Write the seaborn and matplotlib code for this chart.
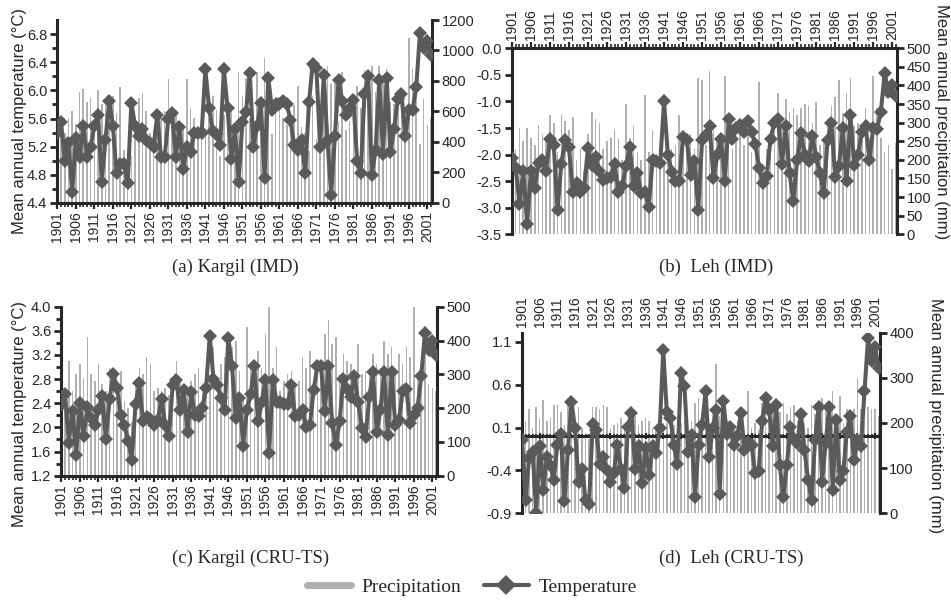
import matplotlib
matplotlib.use("Agg")
import matplotlib.pyplot as plt
from matplotlib.lines import Line2D
from matplotlib.ticker import FormatStrFormatter
import seaborn as sns

# years 1901-2002, labels every 5th year
years = list(range(1901, 2003))
label_years = list(range(1901, 2002, 5))

# (a) Kargil (IMD)
kargil_imd_temp = [5.40, 5.55, 5.00, 5.25, 4.55, 5.33, 5.05, 5.50, 5.05, 5.20,
                   5.50, 5.65, 4.70, 5.30, 5.85, 5.50, 4.82, 4.95, 4.95, 4.68,
                   5.82, 5.50, 5.35, 5.45, 5.30, 5.25, 5.20, 5.65, 5.05, 5.05,
                   5.60, 5.68, 5.05, 5.48, 4.88, 5.20, 5.12, 5.40, 5.40, 5.40,
                   6.30, 5.75, 5.42, 5.38, 5.22, 6.30, 5.75, 5.02, 5.45, 4.70,
                   5.55, 5.70, 6.25, 5.20, 5.50, 5.82, 4.75, 6.18, 5.72, 5.80,
                   5.80, 5.85, 5.80, 5.58, 5.22, 5.15, 5.30, 4.82, 5.83, 6.38,
                   6.32, 5.20, 6.22, 5.28, 4.52, 5.35, 6.15, 5.85, 5.65, 5.75,
                   5.87, 5.00, 4.82, 5.95, 6.20, 4.80, 5.15, 6.15, 5.10, 6.17,
                   5.12, 5.45, 5.88, 5.95, 5.35, 5.72, 5.72, 6.05, 6.82, 6.60,
                   6.70, 6.50]
kargil_imd_prec = [430, 520, 460, 560, 600, 520, 730, 750, 660, 690,
                   550, 740, 650, 680, 600, 700, 590, 760, 350, 340,
                   310, 560, 690, 720, 600, 460, 480, 520, 560, 600,
                   810, 520, 580, 480, 520, 810, 620, 560, 470, 460,
                   490, 560, 700, 610, 310, 580, 720, 640, 500, 860,
                   700, 820, 560, 480, 860, 600, 950, 660, 450, 620,
                   650, 560, 510, 500, 640, 770, 500, 460, 340, 700,
                   420, 620, 860, 900, 780, 820, 540, 860, 480, 540,
                   570, 770, 620, 870, 820, 900, 730, 900, 820, 880,
                   660, 650, 720, 700, 600, 1080, 880, 760, 390, 680,
                   510, 560]

# (b) Leh (IMD)
leh_imd_temp = [-2.07, -2.25, -2.93, -2.30, -3.30, -2.30, -2.63, -2.15, -2.10, -2.30,
                -1.70, -1.82, -3.05, -2.17, -1.73, -1.85, -2.70, -2.53, -2.70, -2.63,
                -1.87, -2.20, -2.05, -2.30, -2.48, -2.45, -2.42, -2.17, -2.70, -2.60,
                -2.22, -1.85, -2.60, -2.35, -2.73, -2.70, -2.98, -2.10, -2.13, -2.15,
                -1.00, -2.00, -2.32, -2.50, -2.50, -1.67, -1.73, -2.38, -2.13, -3.05,
                -1.73, -1.63, -1.46, -2.45, -2.00, -1.70, -2.50, -1.33, -1.70, -1.50,
                -1.44, -1.57, -1.36, -1.57, -1.80, -2.25, -2.53, -2.40, -1.70, -1.40,
                -1.33, -2.18, -1.47, -2.35, -2.88, -2.10, -1.60, -2.00, -2.13, -1.65,
                -2.05, -2.35, -2.73, -1.73, -1.40, -2.43, -2.22, -1.50, -2.50, -1.25,
                -2.20, -2.00, -1.57, -1.47, -2.10, -1.50, -1.52, -1.20, -0.47, -0.82,
                -0.70, -0.90]
leh_imd_prec = [240, 230, 285, 250, 285, 260, 240, 295, 270, 250,
                320, 300, 220, 320, 305, 280, 315, 200, 230, 170,
                270, 330, 310, 300, 230, 250, 260, 280, 255, 200,
                350, 260, 290, 220, 200, 375, 220, 280, 180, 205,
                200, 250, 230, 240, 320, 250, 220, 270, 230, 420,
                415, 240, 440, 280, 255, 220, 425, 250, 230, 260,
                280, 240, 285, 220, 250, 410, 190, 230, 250, 295,
                380, 290, 365, 330, 340, 320, 340, 350, 345, 300,
                355, 240, 260, 310, 345, 370, 415, 325, 380, 420,
                290, 300, 260, 340, 260, 425, 340, 260, 220, 240,
                175, 245]

# (c) Kargil (CRU-TS)
kargil_cru_temp = [2.37, 2.55, 1.75, 2.27, 1.55, 2.40, 1.86, 2.33, 2.15, 2.04,
                   2.29, 2.52, 1.80, 2.47, 2.89, 2.65, 2.21, 2.04, 1.78, 1.46,
                   2.39, 2.73, 2.10, 2.17, 2.14, 2.04, 2.12, 2.47, 2.04, 1.85,
                   2.70, 2.78, 2.29, 2.62, 1.93, 2.58, 2.21, 2.19, 2.32, 2.65,
                   3.52, 2.81, 2.70, 2.48, 2.29, 3.48, 3.01, 2.15, 2.48, 1.70,
                   2.29, 2.55, 3.01, 2.10, 2.42, 2.78, 1.58, 2.79, 2.42, 2.42,
                   2.39, 2.39, 2.70, 2.19, 2.21, 2.29, 2.01, 2.04, 2.62, 3.01,
                   3.01, 2.27, 3.01, 2.07, 1.71, 2.10, 2.81, 2.63, 2.51, 2.85,
                   2.42, 1.99, 1.84, 2.50, 2.91, 1.93, 2.29, 2.92, 1.87, 2.91,
                   2.04, 2.12, 2.60, 2.63, 2.07, 2.21, 2.32, 2.85, 3.56, 3.28,
                   3.43, 3.20]
kargil_cru_prec = [200, 260, 340, 250, 300, 330, 290, 410, 300, 280,
                   330, 270, 250, 320, 300, 280, 310, 220, 200, 160,
                   270, 320, 300, 350, 330, 250, 260, 250, 260, 240,
                   200, 340, 280, 270, 250, 280, 300, 320, 260, 240,
                   290, 380, 220, 330, 350, 330, 380, 400, 310, 240,
                   440, 330, 300, 370, 320, 420, 500, 320, 380, 250,
                   280, 300, 310, 260, 280, 350, 320, 370, 280, 320,
                   340, 420, 460, 390, 410, 300, 360, 340, 330, 300,
                   390, 300, 310, 300, 360, 330, 320, 400, 360, 380,
                   300, 360, 330, 380, 350, 500, 300, 310, 390, 270,
                   260, 250]

# (d) Leh (CRU-TS)
leh_cru_temp = [-0.04, -0.74, -0.25, -0.18, -0.90, -0.12, -0.63, -0.24, -0.34, -0.51,
                -0.10, 0.03, -0.76, -0.16, 0.40, 0.09, -0.54, -0.38, -0.74, -0.79,
                0.14, 0.07, -0.32, -0.24, -0.40, -0.53, -0.43, -0.10, -0.38, -0.61,
                0.11, 0.27, -0.38, -0.12, -0.55, -0.14, -0.45, -0.12, -0.20, 0.09,
                1.00, 0.28, 0.21, -0.10, -0.32, 0.74, 0.58, -0.18, 0.01, -0.71,
                -0.10, 0.13, 0.53, -0.24, 0.09, 0.30, -0.68, 0.41, 0.03, 0.11,
                -0.10, 0.00, 0.27, -0.16, -0.07, -0.10, -0.43, -0.41, 0.17, 0.44,
                0.30, -0.12, 0.36, -0.34, -0.71, -0.34, 0.11, -0.03, -0.08, 0.26,
                -0.16, -0.51, -0.74, -0.05, 0.34, -0.53, -0.08, 0.34, -0.63, 0.19,
                -0.51, -0.41, 0.05, 0.23, -0.28, -0.05, -0.12, 0.52, 1.14, 0.87,
                1.04, 0.79]
leh_cru_prec = [200, 205, 230, 190, 235, 210, 250, 205, 210, 240,
                240, 225, 195, 240, 235, 200, 235, 190, 175, 165,
                235, 235, 230, 240, 235, 190, 195, 200, 210, 185,
                170, 205, 215, 195, 205, 210, 205, 190, 185, 195,
                200, 200, 185, 195, 210, 200, 205, 185, 205, 245,
                255, 210, 235, 200, 230, 330, 215, 225, 205, 180,
                190, 205, 195, 180, 270, 190, 200, 185, 245, 250,
                250, 245, 240, 225, 245, 220, 235, 240, 205, 230,
                200, 190, 240, 220, 240, 255, 230, 205, 270, 185,
                260, 200, 230, 190, 230, 300, 230, 205, 235, 230,
                230, 215]

BAR_GREY = '#b0b0b0'
LINE_GREY = '#5a5a5a'
SPINE_W = 2.2

sns.set_style("ticks")
plt.rcParams['font.family'] = ['Liberation Sans', 'DejaVu Sans']
plt.rcParams['axes.unicode_minus'] = False

fig = plt.figure(figsize=(9.51, 6.01), dpi=100)


def px_rect(left, top, right, bottom):
    """Axes rect from pixel edges of the 951x601 canvas."""
    W, H = 951.0, 601.0
    return [left / W, 1 - bottom / H, (right - left) / W, (bottom - top) / H]


def draw_panel(rect, temp, prec, t_lim, t_ticks, p_lim, p_ticks, axis_pos, t_minor=None):
    ax = fig.add_axes(rect)
    ax2 = ax.twinx()

    sns.barplot(x=years, y=prec, native_scale=True, width=0.42, color=BAR_GREY,
                saturation=1, linewidth=0, ax=ax2)
    sns.lineplot(x=years, y=temp, color=LINE_GREY, linewidth=2.9, marker='D',
                 markersize=7.5, markeredgewidth=0, ax=ax, zorder=3)

    # line axes on top of the bar axes
    ax.set_zorder(ax2.get_zorder() + 1)
    ax.patch.set_visible(False)

    ax.set_xlim(1900.9, 2002.25)
    ax.set_ylim(*t_lim)
    ax.set_yticks(t_ticks)
    if t_minor is not None:
        ax.set_yticks(t_minor, minor=True)
    ax.yaxis.set_major_formatter(FormatStrFormatter('%.1f'))
    ax2.set_ylim(*p_lim)
    ax2.set_yticks(p_ticks)

    ax.set_xticks(label_years)
    ax.set_xticklabels([str(y) for y in label_years])
    ax.set_xticks(years, minor=True)

    for a in (ax, ax2):
        a.set_xlabel('')
        a.set_ylabel('')

    for s in ('left', 'top', 'bottom'):
        ax2.spines[s].set_visible(False)
    ax2.spines['right'].set_linewidth(SPINE_W)
    ax.spines['right'].set_visible(False)
    ax.spines['left'].set_linewidth(SPINE_W)

    if axis_pos == 'bottom':
        ax.spines['top'].set_visible(False)
        ax.spines['bottom'].set_linewidth(SPINE_W)
        ax.tick_params(axis='x', which='both', bottom=True, top=False,
                       labelbottom=True, labeltop=False)
    elif axis_pos == 'top':
        ax.spines['bottom'].set_visible(False)
        ax.spines['top'].set_visible(True)
        ax.spines['top'].set_linewidth(SPINE_W)
        ax.tick_params(axis='x', which='both', bottom=False, top=True,
                       labelbottom=False, labeltop=True)
    else:
        # category axis crossing at zero, labels above the plot
        ax.spines['top'].set_visible(False)
        ax.spines['bottom'].set_position(('data', 0))
        ax.spines['bottom'].set_linewidth(SPINE_W)
        ax.tick_params(axis='x', which='both', bottom=True, top=False,
                       labelbottom=False, labeltop=True, direction='inout')

    ax.tick_params(axis='x', which='major', length=4, width=1.6, labelsize=10,
                   pad=2, labelrotation=90)
    ax.tick_params(axis='x', which='minor', length=3, width=1.2)
    ax.tick_params(axis='y', which='major', length=5, width=2, labelsize=10.5, pad=2)
    ax.tick_params(axis='y', which='minor', length=3.5, width=2)
    ax2.tick_params(axis='y', which='major', length=5, width=2, labelsize=10.5, pad=2)
    ax2.tick_params(axis='x', which='both', bottom=False, top=False,
                    labelbottom=False, labeltop=False)
    return ax, ax2


draw_panel(px_rect(57, 20, 432, 203), kargil_imd_temp, kargil_imd_prec,
           (4.4, 7.0), [4.4, 4.8, 5.2, 5.6, 6.0, 6.4, 6.8],
           (0, 1200), [0, 200, 400, 600, 800, 1000, 1200], 'bottom',
           t_minor=[4.6, 5.0, 5.4, 5.8, 6.2, 6.6])

draw_panel(px_rect(511.5, 48.3, 897, 234.3), leh_imd_temp, leh_imd_prec,
           (-3.5, 0.0), [-3.5, -3.0, -2.5, -2.0, -1.5, -1.0, -0.5, 0.0],
           (0, 500), list(range(0, 501, 50)), 'top')

draw_panel(px_rect(61, 306.7, 437, 475.7), kargil_cru_temp, kargil_cru_prec,
           (1.2, 4.0), [1.2, 1.6, 2.0, 2.4, 2.8, 3.2, 3.6, 4.0],
           (0, 500), [0, 100, 200, 300, 400, 500], 'bottom',
           t_minor=[1.4, 1.8, 2.2, 2.6, 3.0, 3.4, 3.8])

draw_panel(px_rect(521.7, 332.7, 879.5, 513.3), leh_cru_temp, leh_cru_prec,
           (-0.9, 1.205), [-0.9, -0.4, 0.1, 0.6, 1.1],
           (0, 400), [0, 100, 200, 300, 400], 'zero')

# axis titles
temp_label = 'Mean annual temperature (°C)'
prec_label = 'Mean annual precipitation (mm)'
fig.text(20 / 951, 1 - 121 / 601, temp_label, rotation=90, ha='center', va='center', fontsize=12)
fig.text(19.5 / 951, 1 - 414 / 601, temp_label, rotation=90, ha='center', va='center', fontsize=12)
fig.text(941 / 951, 1 - 122 / 601, prec_label, rotation=270, ha='center', va='center', fontsize=12)
fig.text(936 / 951, 1 - 416 / 601, prec_label, rotation=270, ha='center', va='center', fontsize=12)

# panel captions
serif = ['Liberation Serif', 'DejaVu Serif']
fig.text(235 / 951, 1 - 267 / 601, '(a) Kargil (IMD)', ha='center', va='center', family=serif, fontsize=13.5)
fig.text(716 / 951, 1 - 267 / 601, '(b)  Leh (IMD)', ha='center', va='center', family=serif, fontsize=13.5)
fig.text(251 / 951, 1 - 558 / 601, '(c) Kargil (CRU-TS)', ha='center', va='center', family=serif, fontsize=13.5)
fig.text(731 / 951, 1 - 558 / 601, '(d)  Leh (CRU-TS)', ha='center', va='center', family=serif, fontsize=13.5)

handles = [Line2D([], [], color=BAR_GREY, lw=5),
           Line2D([], [], color=LINE_GREY, lw=3, marker='D', markersize=10, markeredgewidth=0)]
fig.legend(handles, ['Precipitation', 'Temperature'], loc='center',
           bbox_to_anchor=(0.496, 1 - 587 / 601), ncol=2, frameon=False,
           prop={'family': serif, 'size': 14}, handlelength=2.3,
           columnspacing=1.2, handletextpad=0.5)

fig.savefig('out.png', dpi=100)
